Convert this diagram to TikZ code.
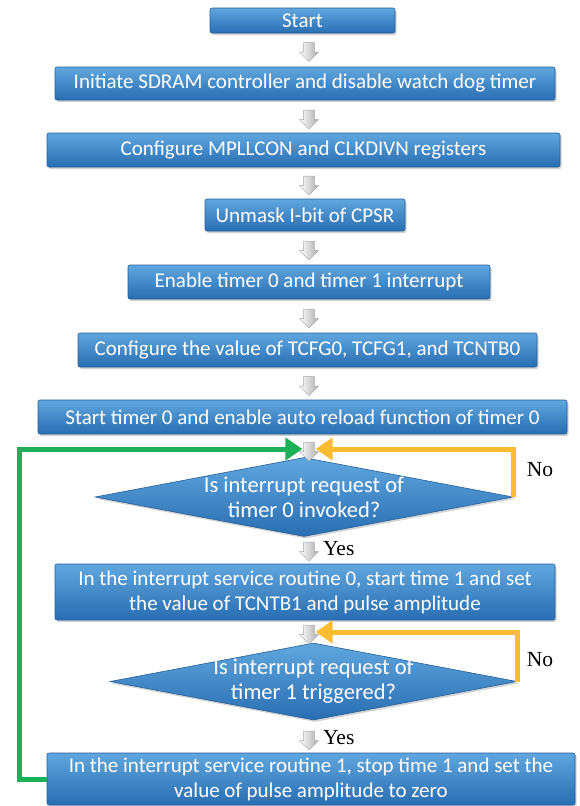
\documentclass[tikz,border=0pt]{standalone}
\usepackage{fontspec}
\setmainfont{Carlito}
\newfontfamily\tnr{Liberation Serif}
\usetikzlibrary{shapes.geometric,shapes.arrows,arrows.meta,shadows,calc}
\definecolor{boxtop}{RGB}{96,166,222}
\definecolor{boxbot}{RGB}{40,110,178}
\definecolor{boxedge}{RGB}{36,96,156}
\definecolor{noorange}{RGB}{251,188,48}
\definecolor{loopgreen}{RGB}{28,176,88}
\tikzset{
  stepbox/.style={rectangle, rounded corners=2pt, draw=boxedge, line width=0.6pt,
    top color=boxtop, bottom color=boxbot, text=white, font=\fontsize{21}{25}\selectfont,
    align=center, inner sep=0pt,
    drop shadow={opacity=0.35, shadow xshift=1.5pt, shadow yshift=-2pt}},
  decbox/.style={diamond, draw=boxedge, line width=0.6pt, inner sep=0pt,
    top color=boxtop, bottom color=boxbot,
    drop shadow={opacity=0.35, shadow xshift=1.5pt, shadow yshift=-2pt}},
  dectext/.style={text=white, font=\fontsize{22.5}{25}\selectfont, align=center},
  garrow/.style={single arrow, shape border rotate=270, draw=gray!70, line width=0.4pt,
    left color=white, right color=gray!65, minimum height=19pt, minimum width=19pt,
    single arrow head extend=4pt, single arrow head indent=0pt, inner sep=5pt},
  lbl/.style={font=\tnr\fontsize{21.5}{24}\selectfont, text=black},
  noloop/.style={draw=noorange, line width=5pt, -{Triangle[width=22pt,length=17pt]}},
  backloop/.style={draw=loopgreen, line width=5pt, -{Triangle[width=22pt,length=17pt]}},
}
\begin{document}
\begin{tikzpicture}[x=1pt,y=-1pt]
\useasboundingbox (0,0) rectangle (579,806);
\node[stepbox, minimum width=185pt, minimum height=25pt] (b1) at (302.5,20.5) {Start};
\node[stepbox, minimum width=500pt, minimum height=33pt] (b2) at (305,83.5) {Initiate SDRAM controller and disable watch dog timer};
\node[stepbox, minimum width=513pt, minimum height=34pt] (b3) at (303.5,150) {Configure MPLLCON and CLKDIVN registers};
\node[stepbox, minimum width=200pt, minimum height=32pt] (b4) at (305,215) {Unmask I-bit of CPSR};
\node[stepbox, minimum width=362pt, minimum height=34pt] (b5) at (309,282) {Enable timer 0 and timer 1 interrupt};
\node[stepbox, minimum width=459pt, minimum height=34pt] (b6) at (307.5,350) {Configure the value of TCFG0, TCFG1, and TCNTB0};
\node[stepbox, minimum width=529pt, minimum height=34pt] (b7) at (302.5,417) {Start timer 0 and enable auto reload function of timer 0};
\node[decbox, minimum width=418pt, minimum height=79pt] (d1) at (304,497) {};
\node[dectext] (d1t) at (d1.center) {Is interrupt request of\\timer 0 invoked?};
\node[stepbox, minimum width=500pt, minimum height=56pt] (b9) at (305,592) {In the interrupt service routine 0, start time 1 and set\\the value of TCNTB1 and pulse amplitude};
\node[decbox, minimum width=407pt, minimum height=77pt] (d2) at (313.5,681.5) {};
\node[dectext] (d2t) at (d2.center) {Is interrupt request of\\timer 1 triggered?};
\node[stepbox, minimum width=528pt, minimum height=52pt] (b11) at (311,779) {In the interrupt service routine 1, stop time 1 and set the\\value of pulse amplitude to zero};
% small block arrows
\node[garrow] (a1) at (309,49.5) {};
\node[garrow] (a2) at (309,117) {};
\node[garrow] (a3) at (309,183) {};
\node[garrow] (a4) at (309,248) {};
\node[garrow] (a5) at (309,316) {};
\node[garrow] (a6) at (309,383.5) {};
\node[garrow] (a8) at (309,449) {};
\node[garrow] (a9) at (309,549) {};
\node[garrow] (a10) at (309,632) {};
\node[garrow] (a11) at (309,738) {};
% labels
\node[lbl, anchor=west, xshift=5pt] (y1) at (a9.east) {Yes};
\node[lbl, anchor=west, xshift=5pt] (y2) at (a11.east) {Yes};
\node[lbl] (n1) at (540,470) {No};
\node[lbl] (n2) at (540,660) {No};
% loops
\draw[noloop] (d1.east) |- ([xshift=1pt]a8.east);
\draw[noloop] (d2.east) |- ([xshift=1pt]a10.east);
\draw[backloop] (b11.west) -- ++(-27,0) |- ([xshift=-1pt]a8.west);
\end{tikzpicture}
\end{document}
